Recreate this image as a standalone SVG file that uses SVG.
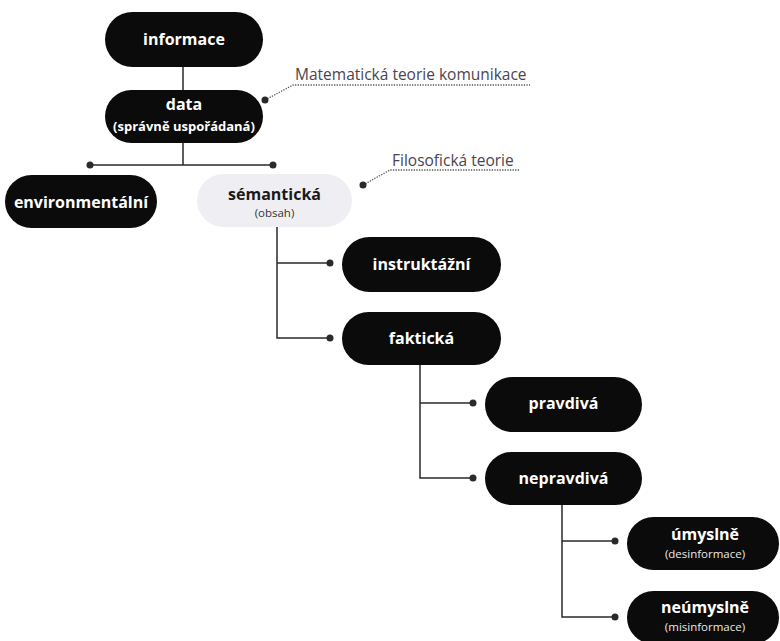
<svg xmlns="http://www.w3.org/2000/svg" width="780" height="641" viewBox="0 0 780 641">
<style>
.n{fill:#0b0b0b}
.s{fill:#efeff3}
.t{font-family:"Open Sans","Liberation Sans",sans-serif;font-weight:700;font-size:16px;fill:#fff;text-anchor:middle}
.ts{font-family:"Open Sans","Liberation Sans",sans-serif;font-weight:700;font-size:13px;fill:#fff;text-anchor:middle}
.tr{font-family:"Open Sans","Liberation Sans",sans-serif;font-weight:400;font-size:11.5px;fill:#e8e8e8;text-anchor:middle}
.a{font-family:"Open Sans","Liberation Sans",sans-serif;font-weight:400;font-size:15.5px;fill:#4a4450}
.ln{stroke:#2a2a2a;stroke-width:1.5;fill:none}
.dot{fill:#2a2a2a}
.dl{stroke:#555;stroke-width:1.3;stroke-dasharray:1.3 1.3;fill:none}
</style>
<g id="connectors">
<path class="ln" d="M183 67V90"/>
<path class="ln" d="M183 143V165M90 165H273"/>
<circle class="dot" cx="90" cy="165" r="3.5"/>
<circle class="dot" cx="273" cy="165" r="3.5"/>
<path class="ln" d="M277 227V338H330M277 263H330"/>
<circle class="dot" cx="330" cy="263" r="3.5"/>
<circle class="dot" cx="330" cy="338" r="3.5"/>
<path class="ln" d="M420 365V478H473M420 403H473"/>
<circle class="dot" cx="473" cy="403" r="3.5"/>
<circle class="dot" cx="473" cy="478" r="3.5"/>
<path class="ln" d="M562 505V617H615M562 541H615"/>
<circle class="dot" cx="615" cy="541" r="3.5"/>
<circle class="dot" cx="615" cy="617" r="3.5"/>
</g>
<g id="annot-mat">
<path class="dl" d="M265 100L293 85H530"/>
<circle class="dot" cx="265" cy="100" r="3.5"/>
<text class="a" x="295" y="80">Matematická teorie komunikace</text>
</g>
<g id="annot-fil">
<path class="dl" d="M363 185L390 170H520"/>
<circle class="dot" cx="363" cy="185" r="3.5"/>
<text class="a" x="392" y="166">Filosofická teorie</text>
</g>
<g id="informace">
<rect class="n" x="105" y="12" width="158" height="55" rx="27.5"/>
<text class="t" x="184" y="45">informace</text>
</g>
<g id="data">
<rect class="n" x="105" y="90" width="158" height="53" rx="26.5"/>
<text class="t" x="184" y="110">data</text>
<text class="ts" x="184" y="131">(správně uspořádaná)</text>
</g>
<g id="environmentalni">
<rect class="n" x="5" y="175" width="152" height="53" rx="26.5"/>
<text class="t" x="81" y="208">environmentální</text>
</g>
<g id="semanticka">
<rect class="s" x="197" y="174" width="155" height="53" rx="26.5"/>
<text class="t" x="274.500" y="200" style="fill:#1a1a1a">sémantická</text>
<text class="tr" x="274.500" y="217" style="fill:#333">(obsah)</text>
</g>
<g id="instruktazni">
<rect class="n" x="342" y="237" width="159" height="55" rx="27.5"/>
<text class="t" x="421.500" y="270">instruktážní</text>
</g>
<g id="fakticka">
<rect class="n" x="342" y="312" width="159" height="53" rx="26.5"/>
<text class="t" x="421.500" y="344">faktická</text>
</g>
<g id="pravdiva">
<rect class="n" x="485" y="377" width="157" height="55" rx="27.5"/>
<text class="t" x="563.500" y="409">pravdivá</text>
</g>
<g id="nepravdiva">
<rect class="n" x="485" y="452" width="157" height="53" rx="26.5"/>
<text class="t" x="563.500" y="484">nepravdivá</text>
</g>
<g id="umyslne">
<rect class="n" x="627" y="517" width="152" height="53" rx="26.5"/>
<text class="t" x="705" y="540">úmyslně</text>
<text class="tr" x="705" y="558">(desinformace)</text>
</g>
<g id="neumyslne">
<rect class="n" x="627" y="591" width="152" height="53" rx="26.5"/>
<text class="t" x="705" y="613">neúmyslně</text>
<text class="tr" x="705" y="631">(misinformace)</text>
</g>
</svg>
